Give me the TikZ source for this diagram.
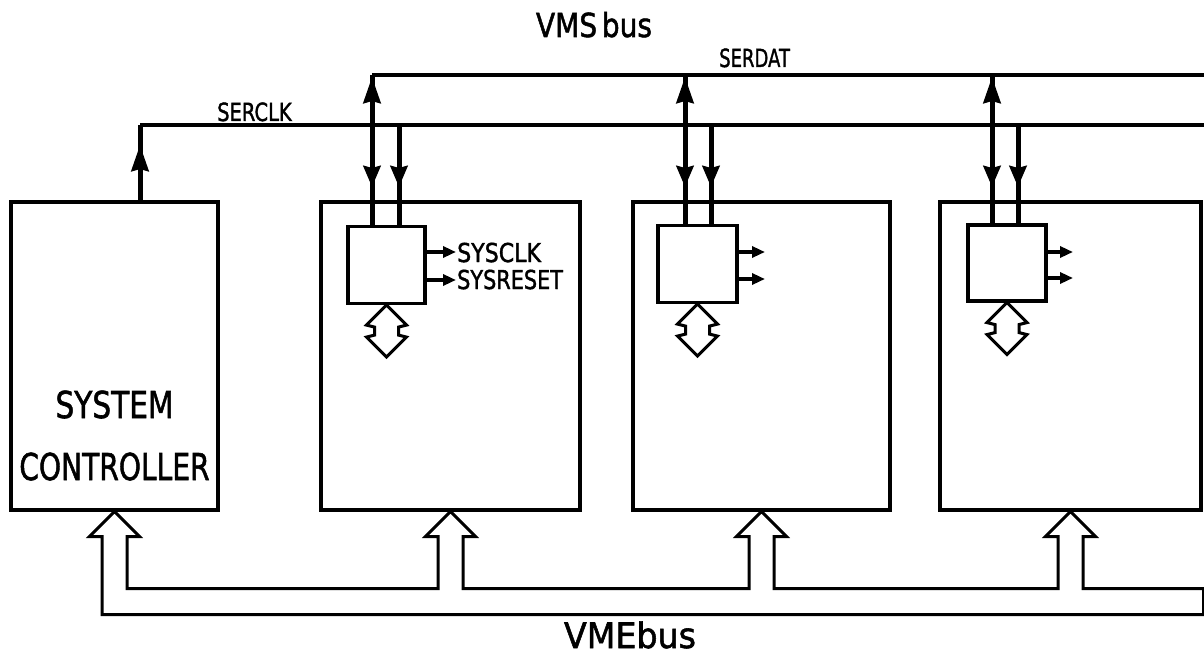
\documentclass[tikz,border=0pt]{standalone}
\usepackage{fontspec}
\setmainfont{DejaVu Sans}[FakeBold=1.6]
\usetikzlibrary{arrows.meta,calc}
\newcommand\nar[2]{\scalebox{#1}[1]{#2}}
\begin{document}
\begin{tikzpicture}[x=1pt,y=-1pt,
  box/.style={draw, line width=3.2pt, inner sep=0pt},
  bus/.style={line width=3.8pt},
  sig/.style={line width=5pt},
  hollow/.style={line width=3pt, line join=miter},
  small/.style={line width=3.2pt, -{Triangle[length=13pt,width=11pt]}},
  uptip/.style={sig, -{Triangle[length=26pt,width=17pt,inset=2pt]}},
  dntip/.style={sig, -{Triangle[length=21pt,width=17pt,inset=2pt]}},
  lbl/.style={inner sep=0pt, anchor=base},
  lblw/.style={inner sep=0pt, anchor=base west}
]
\useasboundingbox (0,0) rectangle (1204,655);

% boards
\node[box, minimum width=207pt, minimum height=308pt] (sc) at (114.5,356) {};
\node[box, minimum width=259pt, minimum height=308pt] (b2) at (450.5,356) {};
\node[box, minimum width=257pt, minimum height=308pt] (b3) at (761.5,356) {};
\node[box, minimum width=261pt, minimum height=308pt] (b4) at (1070.5,356) {};

% interface modules
\node[box, minimum width=77pt, minimum height=77pt] (s2) at (386.5,265) {};
\node[box, minimum width=79pt, minimum height=77pt] (s3) at (697.5,264) {};
\node[box, minimum width=78pt, minimum height=76pt] (s4) at (1007,263) {};

% labels
\node[lbl, font=\fontsize{37}{37}\selectfont] (tsys) at (114.5,418) {\nar{0.8}{SYSTEM}};
\node[lbl, font=\fontsize{37}{37}\selectfont] (tcon) at (114.5,480) {\nar{0.76}{CONTROLLER}};
\node[lbl, font=\fontsize{33}{33}\selectfont] (vms) at (594,37) {\nar{0.85}{VMS\,bus}};
\node[lbl, font=\fontsize{35}{35}\selectfont] (vme) at (630,648) {\nar{0.95}{VMEbus}};
\node[lblw, font=\fontsize{25}{25}\selectfont] (tclk) at (217,121) {\nar{0.78}{SERCLK}};
\node[lblw, font=\fontsize{25}{25}\selectfont] (tdat) at (719,67) {\nar{0.72}{SERDAT}};
\node[lblw, font=\fontsize{26}{26}\selectfont] (tsc) at (457,262) {\nar{0.85}{SYSCLK}};
\node[lblw, font=\fontsize{26}{26}\selectfont] (tsr) at (457,289) {\nar{0.8}{SYSRESET}};

% VMS bus lines
\coordinate (c0) at (140,125);
\coordinate (clkR) at (1204,125);
\coordinate (d2) at (372,75);
\coordinate (datR) at (1204,75);
\coordinate (k2) at (399,125);
\coordinate (d3) at (685,75);
\coordinate (k3) at (711,125);
\coordinate (d4) at (992,75);
\coordinate (k4) at (1018,125);

\draw[bus] (c0) -- (clkR);
\draw[bus] (d2) -- (datR);

\draw[sig] (sc.north -| c0) -- (c0);
\draw[uptip] ($(c0)+(0,52)$) -- ($(c0)+(0,20)$);

\foreach \d/\k/\s in {d2/k2/s2, d3/k3/s3, d4/k4/s4}{
  \draw[sig] (\d) -- (\s.north -| \d);
  \draw[sig] (\k) -- (\s.north -| \k);
  \draw[uptip] ($(\d)+(0,40)$) -- ($(\d)+(0,2)$);
  \draw[dntip] ($(\d)+(0,80)$) -- ($(\d)+(0,112)$);
  \draw[dntip] ($(\k)+(0,30)$) -- ($(\k)+(0,62)$);
}

% SYSCLK / SYSRESET outputs
\coordinate (a2) at (456,252);
\coordinate (r2) at (456,280);
\coordinate (a3) at (765,252);
\coordinate (r3) at (765,279);
\coordinate (a4) at (1073,252);
\coordinate (r4) at (1073,278);
\draw[small] (s2.east |- a2) -- (a2);
\draw[small] (s2.east |- r2) -- (r2);
\draw[small] (s3.east |- a3) -- (a3);
\draw[small] (s3.east |- r3) -- (r3);
\draw[small] (s4.east |- a4) -- (a4);
\draw[small] (s4.east |- r4) -- (r4);

% local bus double arrows
\foreach \s in {s2,s3,s4}{
  \draw[hollow] (\s.south) -- +(20,20) -- +(12,22) -- +(12,30) -- +(20,32) -- +(0,52)
     -- +(-20,32) -- +(-12,30) -- +(-12,22) -- +(-20,20) -- cycle;
}

% VMEbus
\draw[hollow]
  ($(sc.south)+(12.5,77)$) -- ($(sc.south)+(12.5,25)$) -- ($(sc.south)+(25,25)$) -- (sc.south)
  -- ($(sc.south)+(-25,25)$) -- ($(sc.south)+(-12.5,25)$) -- ($(sc.south)+(-12.5,103)$)
  -- ($(b4.south east)+(1,103)$) -- ($(b4.south east)+(1,77)$)
  -- ($(b4.south)+(12.5,77)$) -- ($(b4.south)+(12.5,25)$) -- ($(b4.south)+(25,25)$) -- (b4.south)
  -- ($(b4.south)+(-25,25)$) -- ($(b4.south)+(-12.5,25)$) -- ($(b4.south)+(-12.5,77)$)
  -- ($(b3.south)+(12.5,77)$) -- ($(b3.south)+(12.5,25)$) -- ($(b3.south)+(25,25)$) -- (b3.south)
  -- ($(b3.south)+(-25,25)$) -- ($(b3.south)+(-12.5,25)$) -- ($(b3.south)+(-12.5,77)$)
  -- ($(b2.south)+(12.5,77)$) -- ($(b2.south)+(12.5,25)$) -- ($(b2.south)+(25,25)$) -- (b2.south)
  -- ($(b2.south)+(-25,25)$) -- ($(b2.south)+(-12.5,25)$) -- ($(b2.south)+(-12.5,77)$)
  -- cycle;
\end{tikzpicture}
\end{document}
